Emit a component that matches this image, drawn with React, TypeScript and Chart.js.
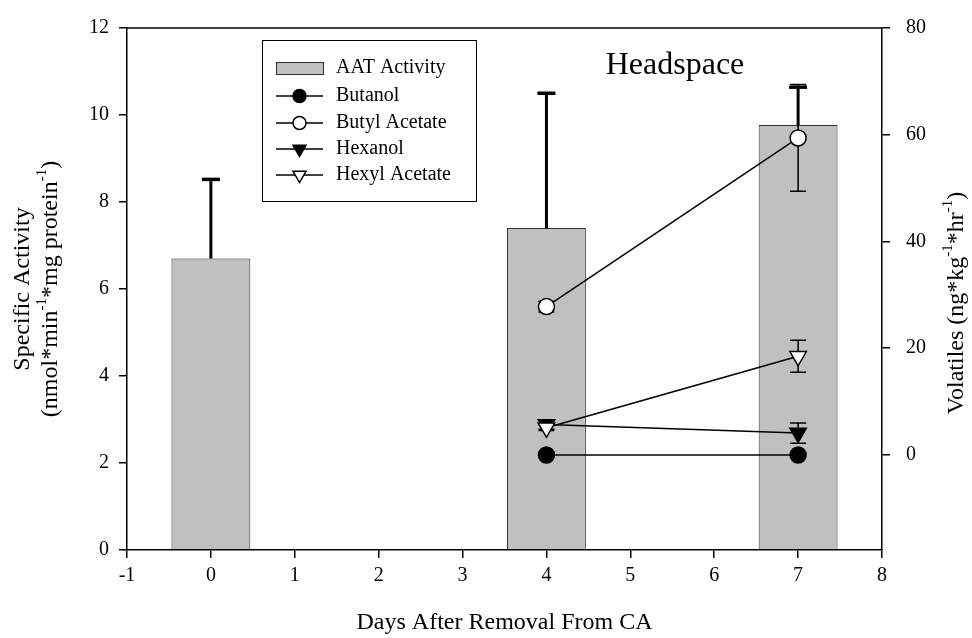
import React, { useEffect, useRef } from "react";
import { Chart, registerables } from "chart.js";

Chart.register(...registerables);

// AAT enzyme activity (left axis)
const days = [0, 4, 7];
const aatActivity = [6.7, 7.4, 9.77];
const aatError = [1.82, 3.1, 0.87];

// Headspace volatiles (right axis)
const volatileDays = [4, 7];
const butanol = [0, 0];
const butanolErr = [0.3, 0.3];
const butylAcetate = [27.8, 59.4];
const butylAcetateErr = [1.0, 10.0];
const hexanol = [5.7, 4.1];
const hexanolErr = [0.9, 1.9];
const hexylAcetate = [5.1, 18.5];
const hexylAcetateErr = [0.5, 3.0];

// Axis ticks
const xTicks = [-1, 0, 1, 2, 3, 4, 5, 6, 7, 8];
const leftTicks = [0, 2, 4, 6, 8, 10, 12];
const rightTicks = [0, 20, 40, 60, 80];

const SERIF = '"Liberation Serif", "Times New Roman", serif';

type Seg = { t: string; sup?: boolean };

function drawRich(
  ctx: CanvasRenderingContext2D,
  segs: Seg[],
  cx: number,
  cy: number,
  size: number,
  rotation: number
) {
  const base = `${size}px ${SERIF}`;
  const supFont = `${Math.round(size * 0.62)}px ${SERIF}`;
  let total = 0;
  const widths = segs.map((s) => {
    ctx.font = s.sup ? supFont : base;
    const w = ctx.measureText(s.t).width;
    total += w;
    return w;
  });
  ctx.save();
  ctx.translate(cx, cy);
  ctx.rotate(rotation);
  ctx.fillStyle = "#000";
  ctx.textAlign = "left";
  ctx.textBaseline = "middle";
  let x = -total / 2;
  segs.forEach((s, i) => {
    ctx.font = s.sup ? supFont : base;
    ctx.fillText(s.t, x, s.sup ? -size * 0.36 : 0);
    x += widths[i];
  });
  ctx.restore();
}

function drawMarker(
  ctx: CanvasRenderingContext2D,
  style: string,
  x: number,
  y: number,
  r: number,
  filled: boolean
) {
  ctx.save();
  ctx.lineWidth = 1.5;
  ctx.strokeStyle = "#000";
  ctx.fillStyle = filled ? "#000" : "#fff";
  ctx.beginPath();
  if (style === "circle") {
    ctx.arc(x, y, r, 0, Math.PI * 2);
  } else {
    // downward triangle
    const h = r * 1.5;
    const w = r * Math.sqrt(3);
    ctx.moveTo(x - w / 2, y - h / 3);
    ctx.lineTo(x + w / 2, y - h / 3);
    ctx.lineTo(x, y + (2 * h) / 3);
    ctx.closePath();
  }
  ctx.fill();
  ctx.stroke();
  ctx.restore();
}

const volatileSeries = [
  { label: "Butanol", values: butanol, errors: butanolErr, style: "circle", filled: true },
  { label: "Butyl Acetate", values: butylAcetate, errors: butylAcetateErr, style: "circle", filled: false },
  { label: "Hexanol", values: hexanol, errors: hexanolErr, style: "triangle", filled: true },
  { label: "Hexyl Acetate", values: hexylAcetate, errors: hexylAcetateErr, style: "triangle", filled: false },
];

const overlayPlugin = {
  id: "overlay",
  afterDatasetDraw(chart: any, args: any) {
    if (args.index !== 0) return;
    const ctx: CanvasRenderingContext2D = chart.ctx;
    const xs = chart.scales.x;
    const yl = chart.scales.y;
    const yr = chart.scales.y1;
    ctx.save();
    ctx.strokeStyle = "#000";
    // enzyme activity: upper error bars, heavy
    days.forEach((d, i) => {
      const px = xs.getPixelForValue(d);
      const y0 = yl.getPixelForValue(aatActivity[i]);
      const y1 = yl.getPixelForValue(aatActivity[i] + aatError[i]);
      ctx.lineWidth = 3;
      ctx.beginPath();
      ctx.moveTo(px, y0);
      ctx.lineTo(px, y1);
      ctx.stroke();
      ctx.lineWidth = 3.5;
      ctx.beginPath();
      ctx.moveTo(px - 9, y1);
      ctx.lineTo(px + 9, y1);
      ctx.stroke();
    });
    // volatiles: two-sided error bars, thin
    ctx.lineWidth = 1.5;
    volatileSeries.forEach((s) => {
      volatileDays.forEach((d, i) => {
        const px = xs.getPixelForValue(d);
        const top = yr.getPixelForValue(s.values[i] + s.errors[i]);
        const bot = yr.getPixelForValue(s.values[i] - s.errors[i]);
        ctx.beginPath();
        ctx.moveTo(px, top);
        ctx.lineTo(px, bot);
        ctx.moveTo(px - 8, top);
        ctx.lineTo(px + 8, top);
        ctx.moveTo(px - 8, bot);
        ctx.lineTo(px + 8, bot);
        ctx.stroke();
      });
    });
    ctx.restore();
  },
  afterDraw(chart: any) {
    const ctx: CanvasRenderingContext2D = chart.ctx;
    const area = chart.chartArea;
    ctx.save();
    // top frame line
    ctx.strokeStyle = "#000";
    ctx.lineWidth = 1.5;
    ctx.beginPath();
    ctx.moveTo(area.left, area.top);
    ctx.lineTo(area.right, area.top);
    ctx.stroke();

    const midY = (area.top + area.bottom) / 2;
    // axis titles
    drawRich(ctx, [{ t: "Specific Activity" }], 23, midY, 24, -Math.PI / 2);
    drawRich(
      ctx,
      [
        { t: "(nmol*min" },
        { t: "-1", sup: true },
        { t: "*mg protein" },
        { t: "-1", sup: true },
        { t: ")" },
      ],
      51,
      midY,
      24,
      -Math.PI / 2
    );
    drawRich(
      ctx,
      [
        { t: "Volatiles (ng*kg" },
        { t: "-1", sup: true },
        { t: "*hr" },
        { t: "-1", sup: true },
        { t: ")" },
      ],
      957,
      midY + 14,
      24,
      -Math.PI / 2
    );
    drawRich(ctx, [{ t: "Days After Removal From CA" }], (area.left + area.right) / 2, 623, 24, 0);

    // panel label
    ctx.fillStyle = "#000";
    ctx.font = `32px ${SERIF}`;
    ctx.textAlign = "center";
    ctx.textBaseline = "alphabetic";
    ctx.fillText("Headspace", 675, 74);

    // legend
    const lx = area.left + 135;
    const ly = area.top + 12;
    const lw = 214;
    const lh = 161;
    ctx.fillStyle = "#fff";
    ctx.fillRect(lx, ly, lw, lh);
    ctx.strokeStyle = "#000";
    ctx.lineWidth = 1;
    ctx.strokeRect(lx + 0.5, ly + 0.5, lw, lh);

    const rowY = [28, 56, 83, 109, 135];
    const symL = lx + 14;
    const symR = lx + 61;
    const symC = (symL + symR) / 2;
    const textX = lx + 74;
    ctx.font = `20px ${SERIF}`;
    ctx.textAlign = "left";
    ctx.textBaseline = "middle";
    // bar swatch
    ctx.fillStyle = "#c0c0c0";
    ctx.fillRect(symL, ly + rowY[0] - 6, symR - symL, 12);
    ctx.strokeStyle = "#303030";
    ctx.strokeRect(symL + 0.5, ly + rowY[0] - 6 + 0.5, symR - symL, 12);
    ctx.fillStyle = "#000";
    ctx.fillText("AAT Activity", textX, ly + rowY[0]);

    volatileSeries.forEach((s, i) => {
      const y = ly + rowY[i + 1];
      ctx.strokeStyle = "#000";
      ctx.lineWidth = 1.5;
      ctx.beginPath();
      ctx.moveTo(symL, y);
      ctx.lineTo(symR, y);
      ctx.stroke();
      drawMarker(ctx, s.style, symC, y, s.style === "circle" ? 6.5 : 7.5, s.filled);
      ctx.fillStyle = "#000";
      ctx.font = `20px ${SERIF}`;
      ctx.textAlign = "left";
      ctx.textBaseline = "middle";
      ctx.fillText(s.label, textX, y);
    });
    ctx.restore();
  },
};

export default function App() {
  const canvasRef = useRef<HTMLCanvasElement | null>(null);

  useEffect(() => {
    const canvas = canvasRef.current;
    if (!canvas) return;
    const tickFont = { family: SERIF, size: 20 };
    const axisGrid = {
      display: true,
      drawOnChartArea: false,
      drawTicks: true,
      tickLength: 8,
      color: "#000",
      lineWidth: 1.5,
      offset: false,
    };
    const axisBorder = { display: true, color: "#000", width: 1.5 };

    const lineDataset = (s: any, order: number) => ({
      type: "line" as const,
      label: s.label,
      data: volatileDays.map((d, i) => ({ x: d, y: s.values[i] })),
      xAxisID: "x",
      yAxisID: "y1",
      borderColor: "#000",
      borderWidth: 1.5,
      fill: false,
      tension: 0,
      pointStyle: s.style,
      rotation: s.style === "triangle" ? 180 : 0,
      pointRadius: s.style === "circle" ? 8 : 9.5,
      pointBackgroundColor: s.filled ? "#000" : "#fff",
      pointBorderColor: "#000",
      pointBorderWidth: 1.5,
      order,
    });

    const chart = new Chart(canvas, {
      type: "bar",
      data: {
        datasets: [
          {
            type: "bar",
            label: "AAT Activity",
            data: days.map((d, i) => ({ x: d, y: aatActivity[i] })),
            xAxisID: "x",
            yAxisID: "y",
            backgroundColor: "#c0c0c0",
            borderColor: "#303030",
            borderWidth: 1,
            barPercentage: 0.94,
            categoryPercentage: 1,
            order: 5,
          } as any,
          lineDataset(volatileSeries[0], 4),
          lineDataset(volatileSeries[1], 3),
          lineDataset(volatileSeries[2], 2),
          lineDataset(volatileSeries[3], 1),
        ],
      },
      options: {
        responsive: false,
        animation: false,
        events: [],
        layout: { padding: { top: 22, left: 0, right: 0, bottom: 0 } },
        plugins: { legend: { display: false }, tooltip: { enabled: false } },
        scales: {
          x: {
            type: "linear",
            min: -1,
            max: 8,
            offset: false,
            afterBuildTicks: (s: any) => {
              s.ticks = xTicks.map((v) => ({ value: v }));
            },
            afterFit: (s: any) => {
              s.height = 88;
            },
            grid: axisGrid,
            border: axisBorder,
            ticks: { font: tickFont, color: "#000", padding: 6, maxRotation: 0, autoSkip: false },
          },
          y: {
            type: "linear",
            position: "left",
            min: 0,
            max: 12,
            afterBuildTicks: (s: any) => {
              s.ticks = leftTicks.map((v) => ({ value: v }));
            },
            afterFit: (s: any) => {
              s.width = 127;
            },
            grid: axisGrid,
            border: axisBorder,
            ticks: { font: tickFont, color: "#000", padding: 10 },
          },
          y1: {
            type: "linear",
            position: "right",
            min: -17.8,
            max: 80,
            afterBuildTicks: (s: any) => {
              s.ticks = rightTicks.map((v) => ({ value: v }));
            },
            afterFit: (s: any) => {
              s.width = 90;
            },
            grid: axisGrid,
            border: axisBorder,
            ticks: { font: tickFont, color: "#000", padding: 16 },
          },
        },
      } as any,
      plugins: [overlayPlugin],
    });
    return () => chart.destroy();
  }, []);

  return (
    <div style={{ position: "fixed", left: 0, top: 0, width: 972, height: 638, background: "#fff" }}>
      <canvas ref={canvasRef} width={972} height={638} style={{ display: "block" }} />
    </div>
  );
}
